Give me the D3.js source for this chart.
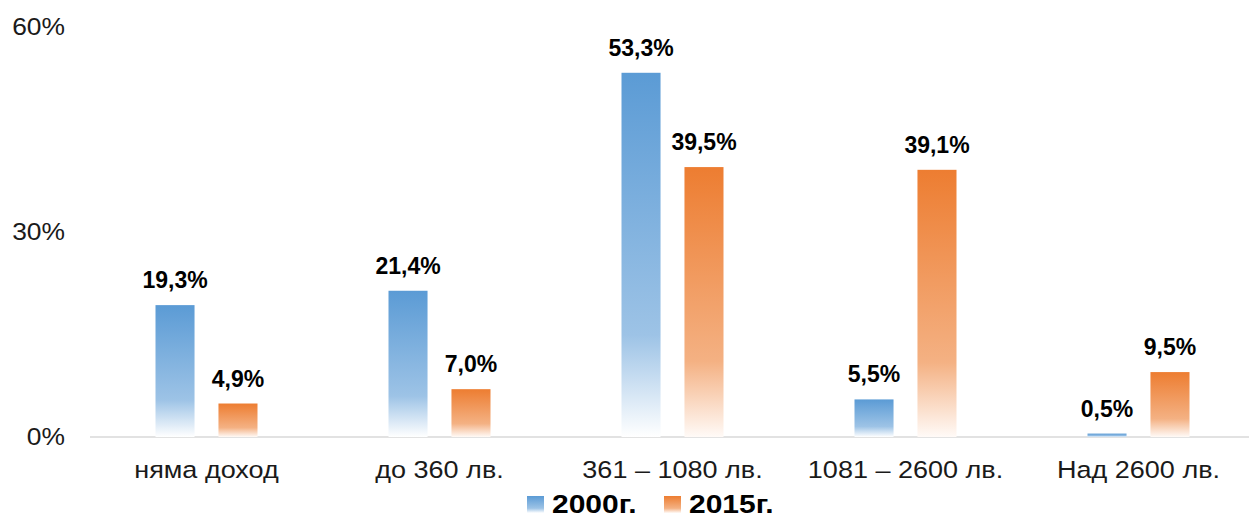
<!DOCTYPE html>
<html>
<head>
<meta charset="utf-8">
<script src="https://cdn.jsdelivr.net/npm/d3@7"></script>
<style>
  body { margin: 0; background: #fff; }
  svg { display: block; font-family: Arial, "Liberation Sans", sans-serif; }
</style>
</head>
<body>
<svg id="chart" width="1249" height="518"></svg>
<script>
var categories = ["няма доход", "до 360 лв.", "361 – 1080 лв.", "1081 – 2600 лв.", "Над 2600 лв."];
var series = ["2000г.", "2015г."];
var values2000 = [19.3, 21.4, 53.3, 5.5, 0.5];
var values2015 = [4.9, 7.0, 39.5, 39.1, 9.5];
var yTicks = [0, 30, 60];

var svg = d3.select("#chart");

var x = d3.scaleBand().domain(categories).range([90, 1255]);
var x1 = d3.scaleBand().domain(series).range([-51, 51]).paddingInner(0.38);
var y = d3.scaleLinear().domain([0, 60]).range([437, 27]);

// gradients per series
var stops = {
  "2000г.": ["#5b9bd5", "#9dc3e6", "#ffffff"],
  "2015г.": ["#ed7d31", "#f4b183", "#fffaf7"]
};
var defs = svg.append("defs");
series.forEach(function(s, i) {
  var g = defs.append("linearGradient")
      .attr("id", "grad" + i)
      .attr("x1", 0).attr("y1", 0).attr("x2", 0).attr("y2", 1);
  g.append("stop").attr("offset", "0%").attr("stop-color", stops[s][0]);
  g.append("stop").attr("offset", "72%").attr("stop-color", stops[s][1]);
  g.append("stop").attr("offset", "100%").attr("stop-color", stops[s][2]);
});

// y tick labels
svg.append("g")
  .selectAll("text")
  .data(yTicks)
  .enter().append("text")
    .attr("transform", function(d) { return "translate(65," + y(d) + ") scale(1.1,1)"; })
    .attr("dy", "0.35em")
    .attr("text-anchor", "end")
    .attr("font-size", 24)
    .attr("fill", "#1a1a1a")
    .text(function(d) { return d + "%"; });

// baseline
svg.append("line")
  .attr("x1", 90).attr("x2", 1249)
  .attr("y1", y(0)).attr("y2", y(0))
  .attr("stroke", "#d9d9d9")
  .attr("stroke-width", 1.5);

var data = categories.map(function(c, i) {
  return { cat: c, vals: [
    { s: series[0], i: 0, v: values2000[i] },
    { s: series[1], i: 1, v: values2015[i] }
  ] };
});

var groups = svg.append("g")
  .selectAll("g")
  .data(data)
  .enter().append("g")
    .attr("transform", function(d) { return "translate(" + (x(d.cat) + x.bandwidth() / 2) + ",0)"; });

groups.selectAll("rect")
  .data(function(d) { return d.vals; })
  .enter().append("rect")
    .attr("x", function(d) { return x1(d.s); })
    .attr("width", x1.bandwidth())
    .attr("y", function(d) { return y(d.v); })
    .attr("height", function(d) { return y(0) - y(d.v); })
    .attr("fill", function(d) { return "url(#grad" + d.i + ")"; });

groups.selectAll("text.val")
  .data(function(d) { return d.vals; })
  .enter().append("text")
    .attr("class", "val")
    .attr("x", function(d) { return x1(d.s) + x1.bandwidth() / 2; })
    .attr("y", function(d) { return y(d.v) - 17; })
    .attr("text-anchor", "middle")
    .attr("font-size", 23)
    .attr("font-weight", "bold")
    .attr("fill", "#000")
    .text(function(d) { return d.v.toFixed(1).replace(".", ",") + "%"; });

// category labels
svg.append("g")
  .selectAll("text")
  .data(categories)
  .enter().append("text")
    .attr("transform", function(d) { return "translate(" + (x(d) + x.bandwidth() / 2) + ",478) scale(1.15,1)"; })
    .attr("text-anchor", "middle")
    .attr("font-size", 23.5)
    .attr("fill", "#1a1a1a")
    .text(function(d) { return d; });

// legend
var legendX = [527, 664];
var legend = svg.append("g")
  .selectAll("g")
  .data(series)
  .enter().append("g")
    .attr("transform", function(d, i) { return "translate(" + legendX[i] + ",0)"; });

legend.append("rect")
  .attr("x", 0).attr("y", 496)
  .attr("width", 17).attr("height", 17)
  .attr("fill", function(d, i) { return "url(#grad" + i + ")"; });

legend.append("text")
  .attr("transform", "translate(25,513) scale(1.2,1)")
  .attr("font-size", 25)
  .attr("font-weight", "bold")
  .attr("fill", "#000")
  .text(function(d) { return d; });
</script>
</body>
</html>
